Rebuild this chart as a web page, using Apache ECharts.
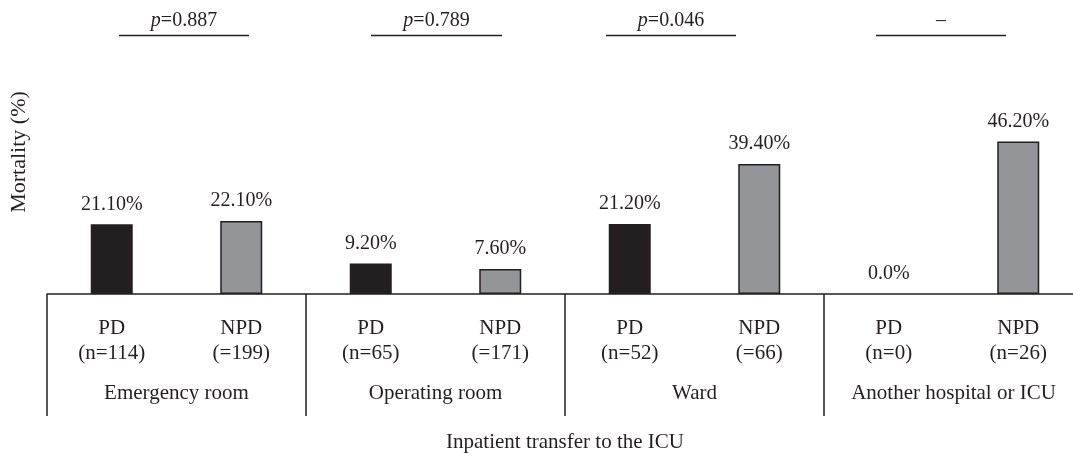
<!DOCTYPE html>
<html>
<head>
<meta charset="utf-8">
<script src="https://cdn.jsdelivr.net/npm/echarts@6/dist/echarts.min.js"></script>
<style>
html, body { margin: 0; padding: 0; background: #fff; }
#chart { width: 1073px; height: 457px; }
</style>
</head>
<body>
<div id="chart"></div>
<script>
// data
const groups = ['Emergency room', 'Operating room', 'Ward', 'Another hospital or ICU'];
const categories = ['PD\n(n=114)', 'NPD\n(=199)', 'PD\n(n=65)', 'NPD\n(=171)', 'PD\n(n=52)', 'NPD\n(=66)', 'PD\n(n=0)', 'NPD\n(n=26)'];
const mortality = [21.1, 22.1, 9.2, 7.6, 21.2, 39.4, 0, 46.2];
const valueLabels = ['21.10%', '22.10%', '9.20%', '7.60%', '21.20%', '39.40%', '0.0%', '46.20%'];
const pValues = ['0.887', '0.789', '0.046', ''];

const ink = '#231f20';
const grey = '#939598';
const font = '"Liberation Serif", "DejaVu Serif", serif';

// where the p-value brackets sit (annotation layout)
const pLineX = [[119, 249], [371, 502], [606, 736], [876, 1006]];

const chart = echarts.init(document.getElementById('chart'));

const barData = mortality.map((v, i) => ({
    value: v,
    itemStyle: i % 2 === 0
        ? { color: ink }
        : { color: grey, borderColor: ink, borderWidth: 1.5 }
}));

const pGraphics = [];
pValues.forEach((p, i) => {
    const [x1, x2] = pLineX[i];
    pGraphics.push({
        type: 'line',
        shape: { x1: x1, y1: 35.5, x2: x2, y2: 35.5 },
        style: { stroke: ink, lineWidth: 1.5 }
    });
    pGraphics.push({
        type: 'text',
        x: (x1 + x2) / 2,
        y: 21,
        style: {
            text: p ? '{i|p}=' + p : '–',
            rich: { i: { fontStyle: 'italic', fontFamily: font, fontSize: 20, fill: ink } },
            fontFamily: font,
            fontSize: 20,
            fill: ink,
            align: 'center',
            verticalAlign: 'middle'
        }
    });
});

const option = {
    backgroundColor: '#fff',
    animation: false,
    textStyle: { fontFamily: font, color: ink },
    grid: { left: 47, width: 1036, top: 10, bottom: 163, outerBoundsMode: 'none', containLabel: false },
    xAxis: [
        {
            type: 'category',
            data: categories,
            position: 'bottom',
            axisLine: { lineStyle: { color: ink, width: 1.5 } },
            axisTick: { show: false },
            axisLabel: {
                color: ink, fontFamily: font, fontSize: 21,
                lineHeight: 25, margin: 22, interval: 0
            }
        },
        {
            type: 'category',
            data: groups,
            position: 'bottom',
            axisLine: { show: false },
            axisTick: { show: true, length: 122, lineStyle: { color: ink, width: 1.5 } },
            axisLabel: { color: ink, fontFamily: font, fontSize: 21, margin: 89, interval: 0 },
            name: 'Inpatient transfer to the ICU',
            nameLocation: 'middle',
            nameGap: 138,
            nameTextStyle: { color: ink, fontFamily: font, fontSize: 21 }
        }
    ],
    yAxis: {
        type: 'value',
        min: 0,
        max: 86,
        axisLine: { show: false },
        axisTick: { show: false },
        axisLabel: { show: false },
        splitLine: { show: false },
        name: 'Mortality (%)',
        nameLocation: 'middle',
        nameGap: 17,
        nameTextStyle: { color: ink, fontFamily: font, fontSize: 22 }
    },
    series: [{
        type: 'bar',
        xAxisIndex: 0,
        barWidth: 42,
        data: barData,
        label: {
            show: true,
            position: 'top',
            distance: 10,
            color: ink,
            fontFamily: font,
            fontSize: 20,
            formatter: (p) => valueLabels[p.dataIndex]
        }
    }],
    graphic: pGraphics
};

chart.setOption(option);
</script>
</body>
</html>
